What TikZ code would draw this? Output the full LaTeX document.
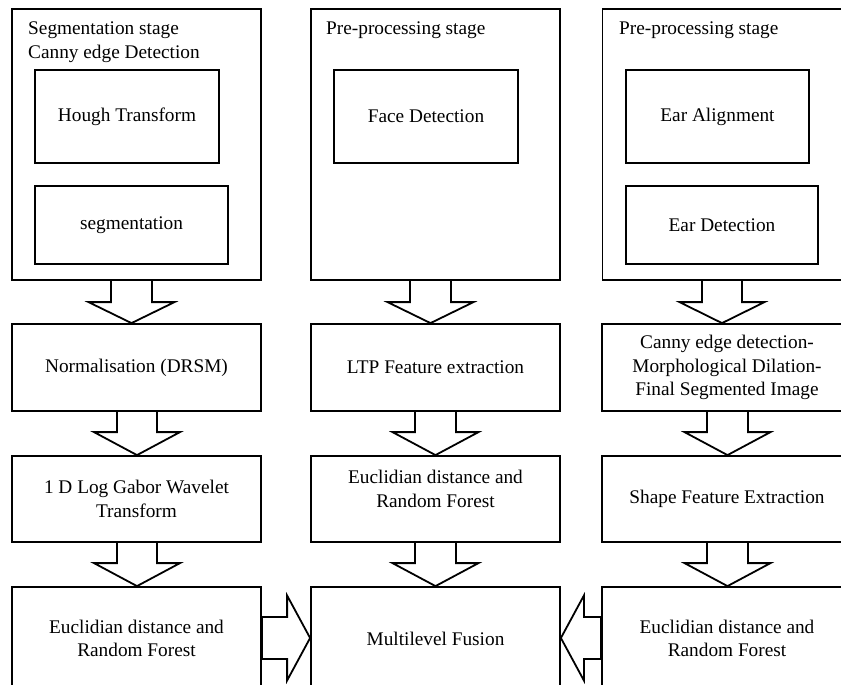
\documentclass[tikz,border=0pt]{standalone}
\usepackage{fontspec}
\setmainfont{Liberation Serif}
\usetikzlibrary{calc}
\tikzset{
  blk/.style={draw=black, line width=1.8pt, line join=miter},
  box/.style={draw=black, line width=1.8pt, inner sep=0pt, align=center, font=\fontsize{19.3}{23.3}\selectfont},
  lbl/.style={inner sep=0pt, anchor=base west, font=\fontsize{19.3}{23.3}\selectfont},
  txt/.style={inner sep=0pt, align=center, font=\fontsize{19.3}{23.3}\selectfont},
}
% block arrow pointing down: from node, to node, x centre, stem half, head half, head length
\newcommand\blkdown[6]{%
  \coordinate (bxa) at (#3,0);
  \draw[blk] ($(bxa |- #1.south)+(-#4,0)$) -- ($(bxa |- #2.north)+(-#4,-#6)$)
    -- ($(bxa |- #2.north)+(-#5,-#6)$) -- (bxa |- #2.north)
    -- ($(bxa |- #2.north)+(#5,-#6)$) -- ($(bxa |- #2.north)+(#4,-#6)$)
    -- ($(bxa |- #1.south)+(#4,0)$);
}
% horizontal block arrow: from anchor, to anchor, y centre, stem half, head half, signed head length
\newcommand\blkh[6]{%
  \coordinate (bya) at (0,#3);
  \draw[blk] ($(#1 |- bya)+(0,-#4)$) -- ($(#2 |- bya)+(#6,-#4)$)
    -- ($(#2 |- bya)+(#6,-#5)$) -- (#2 |- bya)
    -- ($(#2 |- bya)+(#6,#5)$) -- ($(#2 |- bya)+(#6,#4)$)
    -- ($(#1 |- bya)+(0,#4)$) -- cycle;
}
\begin{document}
\begin{tikzpicture}[x=1pt,y=-1pt]
\useasboundingbox (0,0) rectangle (841,685);
\clip (0,0) rectangle (841,685);

% stage boxes
\node[box, minimum width=249pt, minimum height=271pt] (s1) at (136.5,144.5) {};
\node[box, minimum width=249pt, minimum height=271pt] (s2) at (435.5,144.5) {};
\node[box, minimum width=250pt, minimum height=271pt] (s3) at (727.5,144.5) {};

\node[lbl] (t1a) at (28,35) {Segmentation stage};
\node[lbl] (t1b) at (28,58.5) {Canny edge Detection};
\node[lbl] (t2) at (326,35) {Pre-processing stage};
\node[lbl] (t3) at (619,35) {Pre-processing stage};

\node[box, minimum width=184pt, minimum height=93pt] (hough) at (127,116.5) {Hough Transform};
\node[box, minimum width=193pt, minimum height=78pt] (seg) at (131.5,225) {segmentation};
\node[box, minimum width=184pt, minimum height=93pt] (face) at (426,116.5) {Face Detection};
\node[box, minimum width=183pt, minimum height=93pt] (align) at (717.5,116.5) {Ear Alignment};
\node[box, minimum width=192pt, minimum height=78pt] (eardet) at (722,225) {Ear Detection};

% row 2
\node[box, minimum width=249pt, minimum height=87pt] (n1) at (136.5,367.5) {Normalisation (DRSM)};
\node[box, minimum width=249pt, minimum height=87pt] (ltp) at (435.5,367.5) {LTP Feature extraction};
\node[box, minimum width=250pt, minimum height=87pt] (cny) at (727,367.5) {Canny edge detection-\\Morphological Dilation-\\Final Segmented Image};

% row 3
\node[box, minimum width=249pt, minimum height=86pt] (gab) at (136.5,499) {1 D Log Gabor Wavelet\\Transform};
\node[box, minimum width=249pt, minimum height=86pt] (eu2) at (435.5,499) {};
\node[txt] (eu2t) at (435.5,489) {Euclidian distance and\\Random Forest};
\node[box, minimum width=250pt, minimum height=86pt] (shp) at (727,499) {Shape Feature Extraction};

% row 4
\node[box, minimum width=249pt, minimum height=103pt] (eu1) at (136.5,638.5) {Euclidian distance and\\Random Forest};
\node[box, minimum width=249pt, minimum height=103pt] (fus) at (435.5,638.5) {Multilevel Fusion};
\node[box, minimum width=250pt, minimum height=103pt] (eu3) at (727,638.5) {Euclidian distance and\\Random Forest};

% block arrows
\blkdown{s1}{n1}{131.5}{20.5}{43}{21}
\blkdown{n1}{gab}{137}{20}{43}{23}
\blkdown{gab}{eu1}{137}{20}{43}{23}
\blkdown{s2}{ltp}{430.5}{20.5}{43}{21}
\blkdown{ltp}{eu2}{435.5}{20.5}{43}{23}
\blkdown{eu2}{fus}{435.5}{20.5}{43}{23}
\blkdown{s3}{cny}{722}{20}{42.5}{21}
\blkdown{cny}{shp}{727.5}{20.5}{43}{23}
\blkdown{shp}{eu3}{727.5}{20.5}{43}{23}
\blkh{eu1.east}{fus.west}{638}{21}{42.5}{-23}
\blkh{eu3.west}{fus.east}{638}{21}{42.5}{23}
\end{tikzpicture}
\end{document}
